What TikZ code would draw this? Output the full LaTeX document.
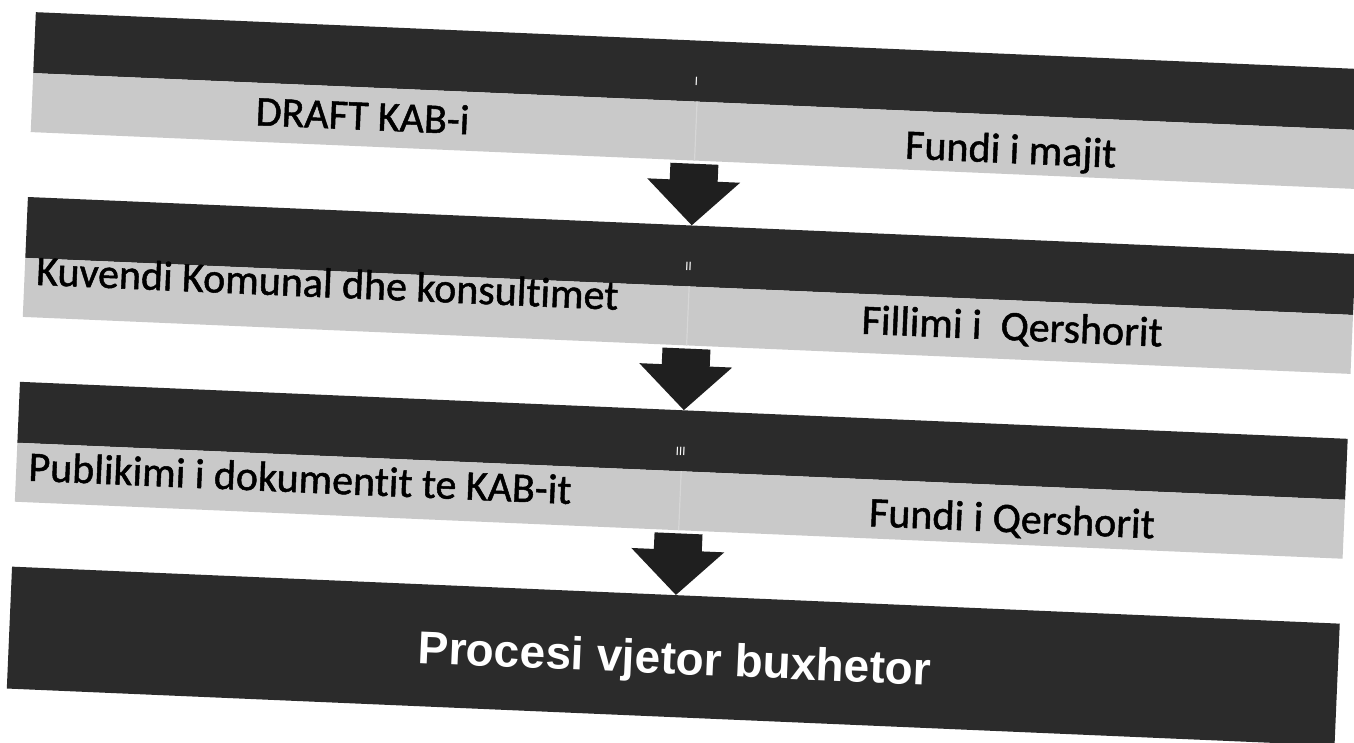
\documentclass[tikz,border=0pt]{standalone}
\usepackage{fontspec}
\setmainfont{Carlito}
\newfontfamily\lblfont{Carlito}[FakeBold=1.2,Ligatures=NoCommon]
\newfontfamily\procfont{Liberation Sans}
\usetikzlibrary{calc}
\definecolor{bandDark}{HTML}{2B2B2B}
\definecolor{bandLight}{HTML}{C9C9C9}
\definecolor{arrowDark}{HTML}{1F1F1F}
\definecolor{splitLine}{HTML}{D6D6D6}
\begin{document}
\begin{tikzpicture}[x=1pt,y=-1pt,
  darkband/.style={fill=bandDark, draw=none, minimum width=1329pt, minimum height=61pt, inner sep=0pt},
  lightband/.style={fill=bandLight, draw=none, minimum width=1329pt, minimum height=59pt, inner sep=0pt},
  finalband/.style={fill=bandDark, draw=none, minimum width=1329pt, minimum height=122pt, inner sep=0pt},
  lbl/.style={font=\lblfont\fontsize{42}{50}\selectfont, text=black, inner sep=0pt},
  numeral/.style={font=\fontsize{13}{15}\selectfont, text=white, inner sep=0pt},
  finaltext/.style={font=\procfont\bfseries\fontsize{46}{54}\selectfont, text=white, inner sep=0pt},
  blockarrow/.style={fill=arrowDark, draw=none},
  divider/.style={draw=splitLine, line width=1.2pt}
]
\useasboundingbox (0,0) rectangle (1354,743);
\fill[white] (0,0) rectangle (1354,743);
\begin{scope}[rotate around={-2.46:(677,371.5)}, transform shape]
  % bands
  \node[darkband]  (d1) at (685.5, 70.5) {};
  \node[lightband] (l1) at (685.5,130.5) {};
  \node[darkband]  (d2) at (685.5,255.5) {};
  \node[lightband] (l2) at (685.5,315.5) {};
  \node[darkband]  (d3) at (685.5,440.5) {};
  \node[lightband] (l3) at (685.5,500.5) {};
  \node[finalband] (f)  at (685.5,656)   {};
  % dividers in the light bands
  \draw[divider] (l1.north) -- (l1.south);
  \draw[divider] (l2.north) -- (l2.south);
  \draw[divider] (l3.north) -- (l3.south);
  % numerals
  \node[numeral] (n1) at (684, 81) {I};
  \node[numeral] (n2) at (684,266) {II};
  \node[numeral] (n3) at (684,451) {III};
  % labels
  \node[lbl] (t1l) at (352,129) {DRAFT KAB-i};
  \node[lbl] (t1r) at (1001,138) {Fundi i majit};
  \node[lbl] (t2l) at (324,298) {Kuvendi Komunal dhe konsultimet};
  \node[lbl] (t2r) at (1010,314) {Fillimi i\ \ Qershorit};
  \node[lbl] (t3l) at (305,494) {Publikimi i dokumentit te KAB-it};
  \node[lbl] (t3r) at (1018,506) {Fundi i Qershorit};
  \node[finaltext] (ft) at (687,662) {Procesi vjetor buxhetor};
  % block arrows
  \fill[blockarrow] (l1.south) ++(-24,3) -- ++(48,0) -- ++(0,17) -- ++(22.5,0) -- (d2.north) -- ++(-46.5,-45) -- ++(22.5,0) -- cycle;
  \fill[blockarrow] (l2.south) ++(-24,3) -- ++(48,0) -- ++(0,17) -- ++(22.5,0) -- (d3.north) -- ++(-46.5,-45) -- ++(22.5,0) -- cycle;
  \fill[blockarrow] (l3.south) ++(-24,3) -- ++(48,0) -- ++(0,17) -- ++(22.5,0) -- (f.north) -- ++(-46.5,-45) -- ++(22.5,0) -- cycle;
\end{scope}
\end{tikzpicture}
\end{document}
